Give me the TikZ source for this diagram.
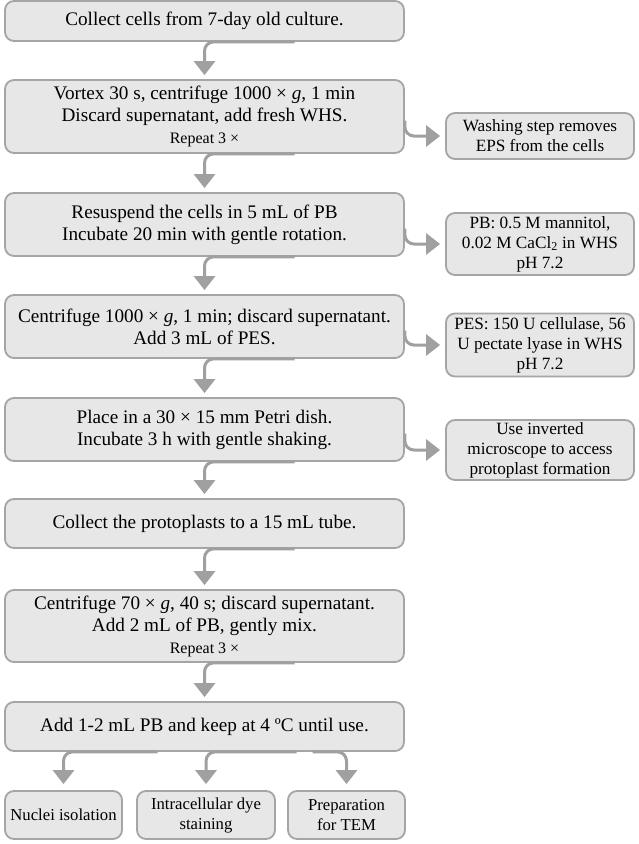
\documentclass[tikz,border=0pt]{standalone}
\usepackage{fontspec}
\setmainfont{Liberation Serif}
\usetikzlibrary{arrows.meta}
\definecolor{boxfill}{HTML}{E7E7E7}
\definecolor{boxline}{HTML}{A5A5A5}
\definecolor{arrgray}{HTML}{A0A0A0}
\begin{document}
\begin{tikzpicture}[x=1pt,y=-1pt,
  box/.style={draw=boxline, fill=boxfill, line width=1.8pt, rounded corners=9pt,
    align=center, inner sep=0pt, font=\fontsize{19.2}{22}\selectfont},
  mainbox/.style={box, minimum width=399pt},
  sidebox/.style={box, minimum width=188pt, font=\fontsize{17.2}{20}\selectfont},
  endbox/.style={box, minimum height=48pt, font=\fontsize{16.7}{20}\selectfont},
  conn/.style={draw=arrgray, line width=3pt, rounded corners=9pt,
    -{Triangle[length=14pt,width=21pt]}, shorten >=4pt},
  sideconn/.style={conn, shorten >=5pt}
]
\useasboundingbox (0,0) rectangle (638,844);
\fill[white] (0,0) rectangle (638,844);

% main column
\node[mainbox, minimum height=40pt] (b1) at (204.5,21) {Collect cells from 7-day old culture.};
\node[mainbox, minimum height=73pt] (b2) at (204.5,116.5) {Vortex 30 s, centrifuge 1000 × \textit{g}, 1 min\\Discard supernatant, add fresh WHS.\\{\fontsize{16}{17}\selectfont Repeat 3 ×}};
\node[mainbox, minimum height=63pt] (b3) at (204.5,224.5) {Resuspend the cells in 5 mL of PB\\Incubate 20 min with gentle rotation.};
\node[mainbox, minimum height=63pt] (b4) at (204.5,326.5) {Centrifuge 1000 × \textit{g}, 1 min; discard supernatant.\\Add 3 mL of PES.};
\node[mainbox, minimum height=63pt] (b5) at (204.5,429.5) {Place in a 30 × 15 mm Petri dish.\\Incubate 3 h with gentle shaking.};
\node[mainbox, minimum height=49pt] (b6) at (204.5,523.5) {Collect the protoplasts to a 15 mL tube.};
\node[mainbox, minimum height=72pt] (b7) at (204.5,626) {Centrifuge 70 × \textit{g}, 40 s; discard supernatant.\\Add 2 mL of PB, gently mix.\\{\fontsize{16}{17}\selectfont Repeat 3 ×}};
\node[mainbox, minimum height=49pt] (b8) at (204.5,726.5) {Add 1-2 mL PB and keep at 4 ºC until use.};

% end boxes
\node[endbox, minimum width=117pt] (e1) at (63.5,815) {Nuclei isolation};
\node[endbox, minimum width=138pt] (e2) at (206,815) {Intracellular dye\\staining};
\node[endbox, minimum width=117pt] (e3) at (346.5,815) {Preparation\\for TEM};

% side boxes
\node[sidebox, minimum height=46pt] (s1) at (540,136) {Washing step removes\\EPS from the cells};
\node[sidebox, minimum height=62pt] (s2) at (540,244) {PB: 0.5 M mannitol,\\0.02 M CaCl\textsubscript{2} in WHS\\pH 7.2};
\node[sidebox, minimum height=63pt] (s3) at (540,345) {PES: 150 U cellulase, 56\\U pectate lyase in WHS\\pH 7.2};
\node[sidebox, minimum height=60pt] (s4) at (540,450) {Use inverted\\microscope to access\\protoplast formation};

% main connectors
\foreach \a/\b in {b1/b2,b2/b3,b3/b4,b4/b5,b5/b6,b6/b7,b7/b8}
  \draw[conn] ([xshift=90pt]\a.south) -| (\b.north);

% side connectors
\draw[sideconn] ([yshift=-4pt]b2.east) |- (s1.west);
\draw[sideconn] ([yshift=-4pt]b3.east) |- (s2.west);
\draw[sideconn] ([yshift=-4pt]b4.east) |- (s3.west);
\draw[sideconn] ([yshift=-4pt]b5.east) |- (s4.west);

% bottom connectors
\draw[conn, shorten >=6pt] ([xshift=-47pt]b8.south) -| (e1.north);
\draw[conn, shorten >=6pt] ([xshift=92pt]b8.south) -| (e2.north);
\draw[conn, shorten >=6pt] ([xshift=108pt]b8.south) -| (e3.north);
\end{tikzpicture}
\end{document}
